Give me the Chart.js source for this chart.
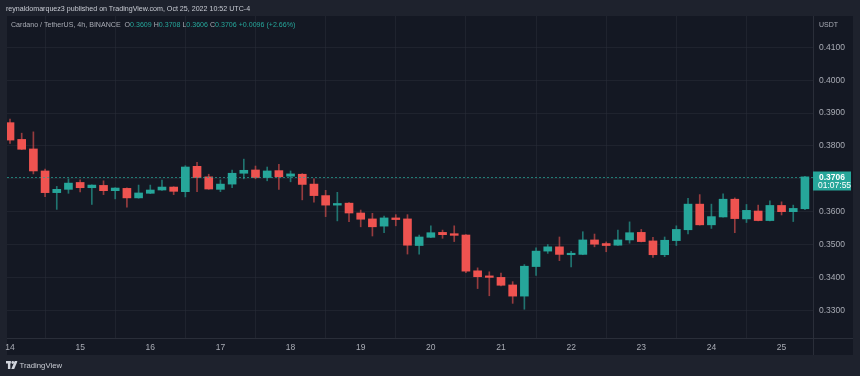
<!DOCTYPE html>
<html>
<head>
  <script src="https://cdn.jsdelivr.net/npm/chart.js@4.4.0/dist/chart.umd.min.js"></script>
<style>
  html, body { margin:0; padding:0; background:#1e222d; }
  #wrap { position:relative; width:860px; height:376px; overflow:hidden; font-family:"Liberation Sans", Arial, sans-serif; }
  canvas { position:absolute; left:0; top:0; }
  .txt { position:absolute; white-space:nowrap; transform-origin:0 50%; line-height:1; }
  #pub { left:6px; top:5px; font-size:8px; color:#c9ccd4; }
  #legend { left:11px; top:21px; font-size:8px; color:#a9acb5; }
  #legend .v { color:#26a69a; }
  #unit { left:819px; top:21px; font-size:7px; color:#a9acb5; }
  #logo { left:6px; top:361px; font-size:8px; color:#c9ccd4; }
  #logo svg { vertical-align:-2px; margin-right:2px; }
</style>
</head>
<body>
<div id="wrap">
  <canvas id="myChart" width="860" height="376"></canvas>
  <div id="pub" class="txt">reynaldomarquez3 published on TradingView.com, Oct 25, 2022 10:52 UTC-4</div>
  <div id="legend" class="txt"></div>
  <div id="unit" class="txt">USDT</div>
  <div id="logo" class="txt"><svg width="12" height="9" viewBox="0 0 12 9"><rect x="0" y="0" width="5" height="2.5" fill="#d1d4dc"/><rect x="2" y="0" width="2.5" height="8" fill="#d1d4dc"/><circle cx="7" cy="1.5" r="1.4" fill="#d1d4dc"/><polygon points="9,0 12,0 8.5,8 5.5,8" fill="#d1d4dc"/></svg>TradingView</div>
</div>
<script>
  // day labels (one every 6 candles, 4h bars)
  var dayLabels = ['14','15','16','17','18','19','20','21','22','23','24','25'];
  var priceTicks = [0.33, 0.34, 0.35, 0.36, 0.37, 0.38, 0.39, 0.40, 0.41];

  var open = [0.3871,0.3820,0.3791,0.3724,0.3658,0.3668,0.3689,0.3673,0.3680,0.3664,0.3671,0.3642,
              0.3656,0.3666,0.3675,0.3661,0.3738,0.3706,0.3668,0.3684,0.3717,0.3727,0.3704,0.3725,
              0.3708,0.3714,0.3684,0.3649,0.3620,0.3626,0.3596,0.3578,0.3556,0.3581,0.3578,0.3497,
              0.3522,0.3537,0.3533,0.3529,0.3420,0.3404,0.3400,0.3377,0.3343,0.3433,0.3480,0.3493,
              0.3469,0.3470,0.3514,0.3503,0.3498,0.3514,0.3537,0.3511,0.3469,0.3512,0.3545,0.3623,
              0.3560,0.3584,0.3638,0.3578,0.3602,0.3573,0.3619,0.3600,0.3609];
  var high = [0.3882,0.3839,0.3843,0.3730,0.3677,0.3700,0.3697,0.3682,0.3694,0.3673,0.3673,0.3681,
              0.3681,0.3696,0.3676,0.3740,0.3750,0.3714,0.3697,0.3727,0.3760,0.3739,0.3736,0.3744,
              0.3724,0.3716,0.3700,0.3665,0.3659,0.3628,0.3605,0.3595,0.3587,0.3591,0.3591,0.3529,
              0.3557,0.3544,0.3557,0.3530,0.3429,0.3417,0.3413,0.3387,0.3439,0.3490,0.3500,0.3523,
              0.3479,0.3539,0.3532,0.3508,0.3544,0.3569,0.3546,0.3522,0.3523,0.3557,0.3641,0.3652,
              0.3623,0.3654,0.3642,0.3622,0.3620,0.3633,0.3630,0.3620,0.3708];
  var low  = [0.3808,0.3789,0.3715,0.3646,0.3607,0.3656,0.3660,0.3622,0.3652,0.3639,0.3614,0.3641,
              0.3655,0.3665,0.3652,0.3645,0.3661,0.3668,0.3661,0.3673,0.3700,0.3700,0.3694,0.3668,
              0.3691,0.3636,0.3629,0.3585,0.3572,0.3570,0.3554,0.3526,0.3536,0.3557,0.3471,0.3471,
              0.3521,0.3519,0.3509,0.3414,0.3366,0.3344,0.3374,0.3321,0.3303,0.3406,0.3473,0.3451,
              0.3432,0.3469,0.3493,0.3478,0.3497,0.3504,0.3508,0.3461,0.3463,0.3497,0.3532,0.3559,
              0.3549,0.3583,0.3536,0.3567,0.3572,0.3572,0.3590,0.3570,0.3606];
  var close = [0.3818,0.3790,0.3724,0.3658,0.3668,0.3687,0.3673,0.3681,0.3664,0.3672,0.3642,0.3657,
              0.3666,0.3675,0.3662,0.3736,0.3704,0.3669,0.3684,0.3717,0.3726,0.3704,0.3724,0.3706,
              0.3715,0.3683,0.3649,0.3620,0.3625,0.3596,0.3577,0.3554,0.3581,0.3576,0.3498,0.3523,
              0.3536,0.3530,0.3528,0.3419,0.3402,0.3400,0.3376,0.3343,0.3434,0.3480,0.3493,0.3470,
              0.3472,0.3514,0.3501,0.3497,0.3514,0.3536,0.3509,0.3469,0.3513,0.3546,0.3623,0.3560,
              0.3585,0.3638,0.3579,0.3604,0.3573,0.3619,0.3600,0.3610,0.3706];
  var countdown = '01:07:55';

  var UP = '#26a69a', DOWN = '#ef5350';
  var UP_WICK = 'rgba(38,166,154,0.65)', DOWN_WICK = 'rgba(239,83,80,0.6)';
  var last = close.length - 1;

  function isUp(i) { return close[i] >= open[i]; }

  var bodies = open.map(function (o, i) { return { x: i, y: [o, close[i]] }; });
  var wicks = open.map(function (o, i) { return { x: i, y: [low[i], high[i]] }; });

  // legend line
  var chg = close[last] - close[last - 1];
  var pct = chg / close[last - 1] * 100;
  document.getElementById('legend').innerHTML =
    'Cardano / TetherUS, 4h, BINANCE&nbsp;&nbsp;' +
    'O<span class="v">' + open[last].toFixed(4) + '</span>&nbsp;' +
    'H<span class="v">' + high[last].toFixed(4) + '</span>&nbsp;' +
    'L<span class="v">' + low[last].toFixed(4) + '</span>&nbsp;' +
    'C<span class="v">' + close[last].toFixed(4) + '</span>&nbsp;' +
    '<span class="v">' + (chg >= 0 ? '+' : '') + chg.toFixed(4) + ' (' + (pct >= 0 ? '+' : '') + pct.toFixed(2) + '%)</span>';

  function fit(id, w) {
    var el = document.getElementById(id);
    el.style.transform = 'scaleX(' + (w / el.offsetWidth) + ')';
  }
  fit('pub', 244);
  fit('legend', 284);
  fit('logo', 56);

  var framePlugin = {
    id: 'frame',
    beforeDraw: function (chart) {
      var c = chart.ctx;
      c.save();
      c.fillStyle = '#1e222d';
      c.fillRect(0, 0, 860, 376);
      c.fillStyle = '#141823';
      c.fillRect(7, 16, 846, 339);
      c.strokeStyle = '#2a2e39';
      c.lineWidth = 1;
      c.beginPath();
      c.moveTo(813.5, 16); c.lineTo(813.5, 355);
      c.moveTo(7, 338.5); c.lineTo(853, 338.5);
      c.stroke();
      c.restore();
    },
    afterDraw: function (chart) {
      var c = chart.ctx, a = chart.chartArea;
      var y = Math.round(chart.scales.y.getPixelForValue(close[last])) + 0.5;
      c.save();
      c.strokeStyle = 'rgba(38,166,154,0.7)';
      c.setLineDash([2, 2]);
      c.beginPath();
      c.moveTo(a.left, y); c.lineTo(a.right, y);
      c.stroke();
      c.setLineDash([]);
      c.fillStyle = UP;
      c.fillRect(813, y - 6, 38, 19);
      c.fillStyle = '#ffffff';
      c.textBaseline = 'middle';
      c.font = 'bold 8.5px "Liberation Sans", Arial, sans-serif';
      c.fillText(close[last].toFixed(4), 819, y);
      c.font = '8.5px "Liberation Sans", Arial, sans-serif';
      c.fillText(countdown, 818, y + 8.5);
      c.restore();
    }
  };

  var ctx = document.getElementById('myChart');
  var myChart = new Chart(ctx, {
    type: 'bar',
    data: {
      datasets: [
        {
          data: bodies,
          order: 0,
          grouped: false,
          barThickness: 8,
          minBarLength: 1.5,
          backgroundColor: function (c) { return isUp(c.dataIndex) ? UP : DOWN; }
        },
        {
          data: wicks,
          order: 1,
          grouped: false,
          barThickness: 1,
          backgroundColor: function (c) { return isUp(c.dataIndex) ? UP_WICK : DOWN_WICK; }
        }
      ]
    },
    options: {
      responsive: false,
      animation: false,
      devicePixelRatio: 1,
      layout: { padding: { left: 7, top: 16, right: 7, bottom: 0 } },
      plugins: { legend: { display: false }, tooltip: { enabled: false } },
      events: [],
      scales: {
        x: {
          type: 'linear',
          offset: false,
          min: -0.257,
          max: 68.69,
          afterBuildTicks: function (s) { s.ticks = dayLabels.map(function (d, i) { return { value: i * 6 }; }); },
          afterFit: function (s) { s.height = 38; },
          grid: { color: 'rgba(42,46,57,0.5)', drawTicks: false },
          border: { display: false },
          ticks: {
            autoSkip: false, maxRotation: 0, padding: 5,
            color: '#a9acb5', font: { size: 8.5, family: '"Liberation Sans", Arial, sans-serif' },
            callback: function (v, i) { return dayLabels[i]; }
          }
        },
        y: {
          position: 'right',
          min: 0.32155,
          max: 0.41957,
          afterBuildTicks: function (s) { s.ticks = priceTicks.map(function (v) { return { value: v }; }); },
          afterFit: function (s) { s.width = 40; },
          grid: { color: 'rgba(42,46,57,0.5)', drawTicks: false },
          border: { display: false },
          ticks: {
            padding: 6,
            color: '#a9acb5', font: { size: 8.5, family: '"Liberation Sans", Arial, sans-serif' },
            callback: function (v) { return v.toFixed(4); }
          }
        }
      }
    },
    plugins: [framePlugin]
  });
</script>
</body>
</html>
